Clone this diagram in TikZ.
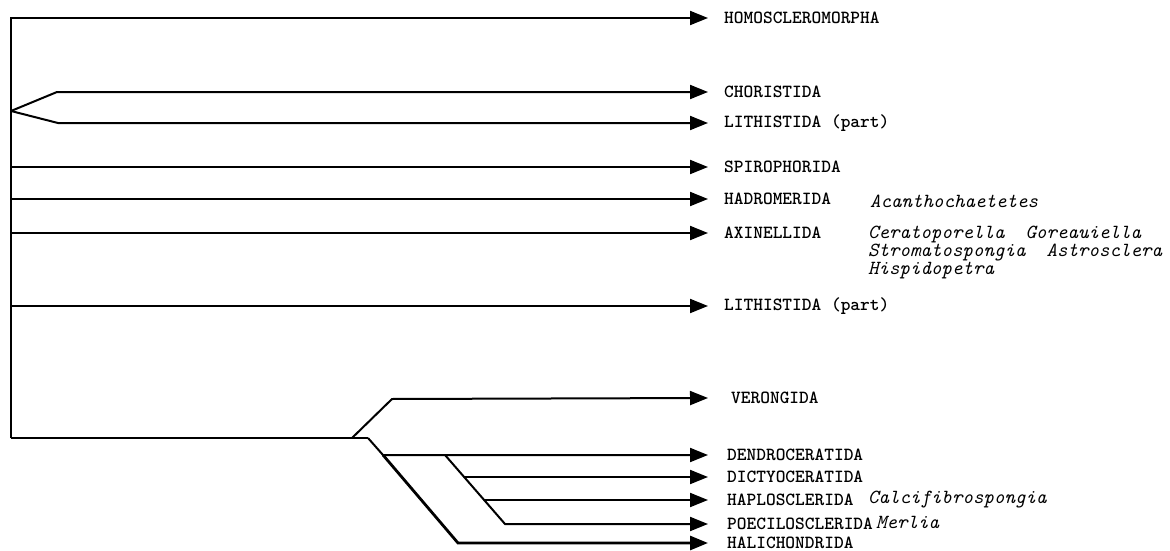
\documentclass[tikz,border=0pt]{standalone}
\usepackage{tikz}
\usetikzlibrary{arrows.meta, positioning, calc}

\begin{document}
\begin{tikzpicture}[x=1pt, y=1pt,
  order/.style={anchor=west, inner ysep=0pt, inner xsep=16pt,
                font=\fontsize{18.5}{18}\selectfont\ttfamily\bfseries},
  genus/.style={anchor=west, inner sep=0pt, align=left,
                font=\fontsize{20}{14}\selectfont\ttfamily\itshape},
  arr/.style={-{Triangle[length=18pt, width=14pt]}, line width=2pt},
  ln/.style={line width=2pt}
]
  \useasboundingbox (0,0) rectangle (1170,-551);

  % order labels, arrow tips at x=708
  \node[order] (homo)   at (708,-18)  {HOMOSCLEROMORPHA};
  \node[order] (chor)   at (708,-92)  {CHORISTIDA};
  \node[order] (lithA)  at (708,-123) {LITHISTIDA (part)};
  \node[order] (spiro)  at (708,-167) {SPIROPHORIDA};
  \node[order] (hadro)  at (708,-199) {HADROMERIDA};
  \node[order] (axin)   at (708,-233) {AXINELLIDA};
  \node[order] (lithB)  at (708,-306) {LITHISTIDA (part)};
  \node[order, inner xsep=23pt] (veron) at (708,-398) {VERONGIDA};
  \node[order, inner xsep=19pt] (dendro) at (708,-455) {DENDROCERATIDA};
  \node[order, inner xsep=19pt] (dicty)  at (708,-477) {DICTYOCERATIDA};
  \node[order, inner xsep=19pt] (haplo)  at (708,-500) {HAPLOSCLERIDA};
  \node[order, inner xsep=19pt] (poec)   at (708,-524) {POECILOSCLERIDA};
  \node[order, inner xsep=19pt] (hali)   at (708,-543) {HALICHONDRIDA};

  % genera
  \node[genus] (acan) at (870,-201) {Acanthochaetetes};
  \node[genus, anchor=north west] (cera) at (868,-226)
    {Ceratoporella\ \ Goreauiella\\Stromatospongia\ \ Astrosclera\\Hispidopetra};
  \node[genus] (calc) at (868,-500) {Calcifibrospongia};
  \node[genus] (merl) at (876,-522) {Merlia};

  % trunk
  \coordinate (ttop) at (11,-18);
  \coordinate (tbot) at (11,-438);
  \coordinate (fork) at (11,-111);
  \draw[arr] (tbot) -- (ttop) -- (homo.west);
  \draw[arr] (fork) -- ++(46,19) -- (chor.west);
  \draw[arr] (fork) -- ++(47,-12) -- (lithA.west);
  \foreach \n in {spiro, hadro, axin, lithB}
    \draw[arr] (ttop |- \n.west) -- (\n.west);

  % lower clade
  \coordinate (split) at (368,-438);
  \coordinate (vbase) at (352,-438);
  \coordinate (dA) at (383,-455);
  \coordinate (dB) at (445,-455);
  \coordinate (dC) at (464,-477);
  \coordinate (dD) at (484,-500);
  \coordinate (dE) at (505,-524);
  \draw[ln] (tbot) -- (split);
  \draw[arr] (vbase) -- ++(40,39) -- (veron.west);
  \draw[arr] (split) -- (dA) -- (dendro.west);
  \draw[arr, line width=2.8pt] (dA) -- (458,-543) -- (hali.west);
  \draw[arr] (dB) -- (dE) -- (poec.west);
  \draw[arr] (dC) -- (dicty.west);
  \draw[arr] (dD) -- (haplo.west);
\end{tikzpicture}
\end{document}
